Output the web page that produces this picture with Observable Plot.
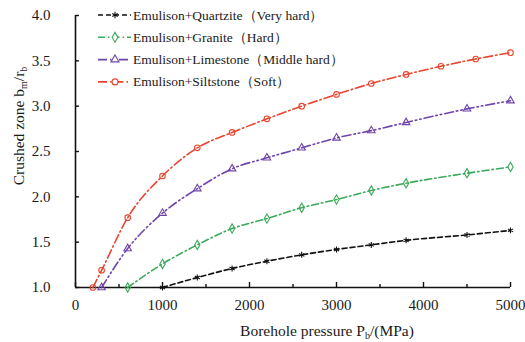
<!DOCTYPE html>
<html>
<head>
<meta charset="utf-8">
<script src="https://cdn.jsdelivr.net/npm/d3@7"></script>
<script src="https://cdn.jsdelivr.net/npm/@observablehq/plot@0.6"></script>
<style>
  html, body { margin: 0; padding: 0; background: #fff; }
  #chart { width: 525px; height: 342px; }
</style>
</head>
<body>
<div id="chart"></div>
<script>
// ---- data ----
const seriesNames = [
  "Emulison+Quartzite（Very hard）",
  "Emulison+Granite（Hard）",
  "Emulison+Limestone（Middle hard）",
  "Emulison+Siltstone（Soft）"
];
const quartziteP = [1000, 1400, 1800, 2200, 2600, 3000, 3400, 3800, 4500, 5000];
const quartziteB = [1.00, 1.11, 1.21, 1.29, 1.36, 1.42, 1.47, 1.52, 1.58, 1.63];
const graniteP = [600, 1000, 1400, 1800, 2200, 2600, 3000, 3400, 3800, 4500, 5000];
const graniteB = [1.00, 1.26, 1.47, 1.65, 1.76, 1.88, 1.97, 2.07, 2.15, 2.26, 2.33];
const limestoneP = [300, 600, 1000, 1400, 1800, 2200, 2600, 3000, 3400, 3800, 4500, 5000];
const limestoneB = [1.00, 1.43, 1.82, 2.09, 2.31, 2.43, 2.54, 2.65, 2.73, 2.82, 2.97, 3.06];
const siltstoneP = [200, 300, 600, 1000, 1400, 1800, 2200, 2600, 3000, 3400, 3800, 4200, 4600, 5000];
const siltstoneB = [1.00, 1.19, 1.77, 2.23, 2.54, 2.71, 2.86, 3.00, 3.13, 3.25, 3.35, 3.44, 3.52, 3.59];
const xTicks = [0, 1000, 2000, 3000, 4000, 5000];
const xMinorTicks = [500, 1500, 2500, 3500, 4500];
const yTicks = [1.0, 1.5, 2.0, 2.5, 3.0, 3.5, 4.0];

// ---- styles ----
const styles = [
  {color: "#111111", dash: "5,3", symbol: "asterisk"},
  {color: "#3aa95a", dash: "7,3,1.5,3", symbol: "diamond"},
  {color: "#6f45ab", dash: "9,3,1.5,3,1.5,3", symbol: "triangle"},
  {color: "#e8442e", dash: "9,3,1.5,3", symbol: "circle"}
];
const rows = (P, B) => P.map((p, i) => ({p, b: B[i]}));
const series = [
  rows(quartziteP, quartziteB),
  rows(graniteP, graniteB),
  rows(limestoneP, limestoneB),
  rows(siltstoneP, siltstoneB)
];

const font = "'Liberation Serif', 'Times New Roman', serif";

const marks = [];
series.forEach((data, i) => {
  const s = styles[i];
  marks.push(Plot.line(data, {x: "p", y: "b", stroke: s.color, strokeWidth: 1.6,
    strokeDasharray: s.dash, curve: "monotone-x"}));
  marks.push(Plot.dot(data, {x: "p", y: "b", symbol: s.symbol, stroke: s.color,
    fill: s.symbol === "asterisk" ? s.color : "none", r: 2.8, strokeWidth: 1.1}));
});

const chart = Plot.plot({
  width: 525,
  height: 342,
  marginLeft: 75,
  marginRight: 15,
  marginTop: 15,
  marginBottom: 55,
  style: {fontFamily: font, background: "white", color: "#1a1a1a"},
  x: {domain: [0, 5000]},
  y: {domain: [1, 4]},
  marks: [
    // tick labels
    Plot.axisX({ticks: xTicks, tickSize: 0, tickPadding: 12, fontSize: 15, label: null, tickFormat: d => String(d)}),
    Plot.axisY({ticks: yTicks, tickSize: 0, tickPadding: 25, fontSize: 15, label: null, tickFormat: d3.format(".1f")}),
    // inward tick marks
    Plot.axisX({ticks: xTicks, tickSize: 5, dy: -5, tickFormat: () => "", label: null, strokeWidth: 1.4, stroke: "#111"}),
    Plot.axisX({ticks: xMinorTicks, tickSize: 3, dy: -3, tickFormat: () => "", label: null, strokeWidth: 1.4, stroke: "#111"}),
    Plot.axisY({ticks: yTicks, tickSize: 4, dx: 4, tickFormat: () => "", label: null, strokeWidth: 1.4, stroke: "#111"}),
    Plot.ruleY([1], {stroke: "#111", strokeWidth: 1.6}),
    Plot.ruleX([0], {stroke: "#111", strokeWidth: 1.6}),
    ...marks
  ]
});
document.getElementById("chart").appendChild(chart);

// ---- titles & legend (layout only) ----
const svg = d3.select(chart);
const ylab = svg.append("text")
  .attr("transform", "translate(24,126) rotate(-90)")
  .attr("text-anchor", "middle")
  .attr("font-family", font).attr("font-size", 15.5).attr("fill", "#1a1a1a");
ylab.append("tspan").text("Crushed zone b");
ylab.append("tspan").attr("font-size", 10).attr("dy", 3).text("m");
ylab.append("tspan").attr("dy", -3).text("/r");
ylab.append("tspan").attr("font-size", 10).attr("dy", 3).text("b");

const xlab = svg.append("text")
  .attr("x", 327).attr("y", 336)
  .attr("text-anchor", "middle")
  .attr("font-family", font).attr("font-size", 15.5).attr("fill", "#1a1a1a");
xlab.append("tspan").text("Borehole pressure P");
xlab.append("tspan").attr("font-size", 10).attr("dy", 3).text("b");
xlab.append("tspan").attr("dy", -3).text("/(MPa)");

const symbolMap = {asterisk: d3.symbolAsterisk, diamond: d3.symbolDiamond, triangle: d3.symbolTriangle, circle: d3.symbolCircle};
const leg = svg.append("g");
seriesNames.forEach((name, i) => {
  const s = styles[i];
  const y = 15 + 22.3 * i;
  leg.append("line").attr("x1", 98).attr("x2", 131).attr("y1", y).attr("y2", y)
    .attr("stroke", s.color).attr("stroke-width", 1.6).attr("stroke-dasharray", s.dash);
  leg.append("path").attr("d", d3.symbol(symbolMap[s.symbol], 28)())
    .attr("transform", `translate(115,${y})`)
    .attr("stroke", s.color).attr("fill", s.symbol === "asterisk" ? s.color : "white").attr("stroke-width", 1.1);
  leg.append("text").attr("x", 133).attr("y", y + 4.5)
    .attr("text-anchor", "start")
    .attr("font-family", font).attr("font-size", 13.5).attr("fill", "#1a1a1a").text(name);
});
</script>
</body>
</html>
